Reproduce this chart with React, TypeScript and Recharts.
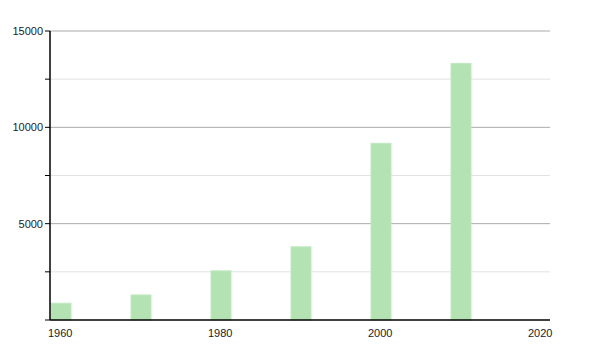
import React from 'react';
import { ComposedChart, Bar, XAxis, YAxis, CartesianGrid } from 'recharts';

const years = [1960, 1970, 1980, 1990, 2000, 2010];
const values = [870, 1300, 2550, 3800, 9170, 13320];
const xTicks = [1960, 1980, 2000, 2020];
const yTicks = [0, 2500, 5000, 7500, 10000, 12500, 15000];
const majorGrid = [5000, 10000, 15000];
const minorGrid = [2500, 7500, 12500];

const data = years.map((y, i) => ({ year: y, value: values[i] }));

const XTick = (props: any) => {
  const { x, y, payload } = props;
  return (
    <text x={x - 2} y={y + 9} textAnchor="start" fontSize={11} fill="#222" fontFamily="Liberation Sans, Arial, sans-serif">
      {payload.value}
    </text>
  );
};

const BarShape = (props: any) => {
  const { x, y, width, height } = props;
  return <rect x={x + width / 2 + 1} y={y} width={width} height={height} fill="#b3e3b3" stroke="#bfe8bf" strokeWidth={1} />;
};

export default function App() {
  return (
    <div style={{ marginLeft: -8, marginTop: -8, width: 600, height: 350 }}>
      <ComposedChart width={600} height={350} data={data} margin={{ top: 31, right: 50, bottom: 10, left: 0 }}>
        <CartesianGrid vertical={false} horizontalValues={minorGrid} stroke="#e2e2e2" />
        <CartesianGrid vertical={false} horizontalValues={majorGrid} stroke="#aaaaaa" />
        <XAxis
          dataKey="year"
          type="number"
          domain={[1960, 2022.5]}
          ticks={xTicks}
          tickLine={false}
          axisLine={{ stroke: '#000', strokeWidth: 1.5 }}
          tick={<XTick />}
          height={20}
          allowDataOverflow
        />
        <YAxis
          type="number"
          domain={[0, 15000]}
          ticks={yTicks}
          width={50}
          axisLine={{ stroke: '#000', strokeWidth: 1.5 }}
          tickLine={{ stroke: '#000' }}
          tickSize={5}
          tick={{ fontSize: 11, fill: '#222', fontFamily: 'Liberation Sans, Arial, sans-serif' }}
          tickFormatter={(v: number) => (v > 0 && v % 5000 === 0 ? String(v) : '')}
          interval={0}
        />
        <Bar dataKey="value" barSize={20} shape={<BarShape />} isAnimationActive={false} />
      </ComposedChart>
    </div>
  );
}
